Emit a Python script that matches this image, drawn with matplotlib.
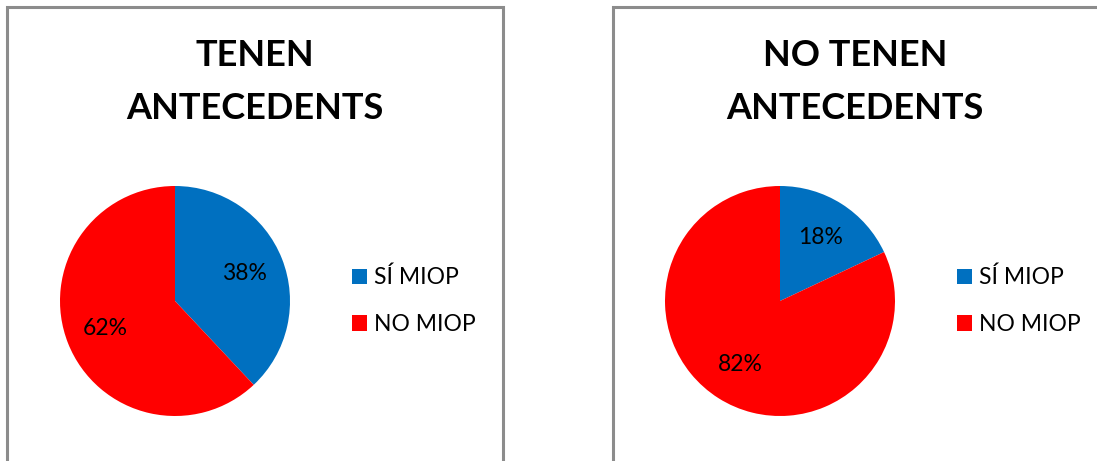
import matplotlib
matplotlib.use("Agg")
import matplotlib.pyplot as plt
from matplotlib.patches import Rectangle

plt.rcParams['font.family'] = ['Lato', 'DejaVu Sans']

# data
categories = ['SÍ MIOP', 'NO MIOP']
titles = ['TENEN\nANTECEDENTS', 'NO TENEN\nANTECEDENTS']
amb_antecedents = [38, 62]
sense_antecedents = [18, 82]
colors = ['#0070C0', '#FF0000']

W, H = 1097, 461
fig = plt.figure(figsize=(W / 100, H / 100), dpi=100)


def px_box(x0, y0, x1, y1):
    # image pixel box (top-down) -> figure fraction [l, b, w, h]
    return [x0 / W, (H - y1) / H, (x1 - x0) / W, (y1 - y0) / H]


def draw_panel(frame, pie_box, title_x, leg_xy, values, title):
    l, b, w, h = px_box(*frame)
    fig.patches.append(Rectangle((l, b), w, h, transform=fig.transFigure,
                                 fill=False, edgecolor='#8c8c8c', linewidth=2.2))
    fig.text(title_x / W, 1 - 82 / H, title, ha='center', va='center',
             fontsize=26, fontweight='bold', linespacing=1.75)

    ax = fig.add_axes(px_box(*pie_box))
    wedges, _, autotexts = ax.pie(values, colors=colors, startangle=90, counterclock=False,
                                  autopct='%d%%', pctdistance=0.65, radius=1,
                                  textprops={'fontsize': 16.5})
    ax.set_xlim(-1, 1)
    ax.set_ylim(-1, 1)
    ax.set_aspect('equal')
    ax.axis('off')

    fig.legend(wedges, categories, loc='center left',
               bbox_to_anchor=(leg_xy[0] / W, 1 - leg_xy[1] / H),
               frameon=False, fontsize=16.5, handlelength=0.65, handleheight=0.65,
               handletextpad=0.3, labelspacing=1.12, borderaxespad=0, borderpad=0)


draw_panel((7, 7, 503, 470), (60, 186, 290, 416), 255, (352, 301),
           amb_antecedents, titles[0])
draw_panel((613, 7, 1110, 470), (665, 186, 895, 416), 855, (957, 301),
           sense_antecedents, titles[1])

plt.savefig('out.png', dpi=100)
